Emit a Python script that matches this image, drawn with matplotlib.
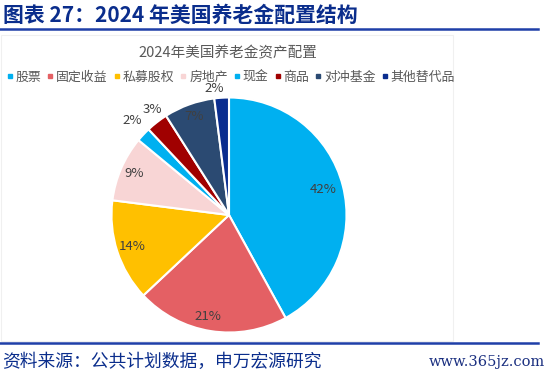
import matplotlib
matplotlib.use("Agg")
import matplotlib.pyplot as plt
from matplotlib.lines import Line2D
from matplotlib.patches import Rectangle
import numpy as np

plt.rcParams['font.family'] = ['Noto Sans CJK SC', 'DejaVu Sans']

categories = ['股票', '固定收益', '私募股权', '房地产', '现金', '商品', '对冲基金', '其他替代品']
values = [42, 21, 14, 9, 2, 3, 7, 2]
labels = ['42%', '21%', '14%', '9%', '2%', '3%', '7%', '2%']
colors = ['#00B0F0', '#E46064', '#FFC000', '#F8D5D5', '#00B0F0', '#A00000', '#2B4A72', '#0A2D8F']
label_radius = [0.83, 0.88, 0.87, 0.88, 1.15, 1.11, 0.89, 1.08]
label_angle_shift = [1, -3, 0, 0, -1, -2, 0, 3]

W, H = 550, 377
fig = plt.figure(figsize=(W / 100, H / 100), dpi=100)
fig.patch.set_facecolor('white')

def fx(x):
    return x / W

def fy(y):
    return 1 - y / H

blue = '#0A2D8C'
line_blue = '#1F3FA8'

# Header title
fig.text(fx(3), fy(15), '图表 27：2024 年美国养老金配置结构', fontsize=15, fontweight='bold',
         color=blue, ha='left', va='center')
fig.add_artist(Line2D([fx(0), fx(538)], [fy(29), fy(29)], color=line_blue, lw=1.8))
fig.add_artist(Line2D([fx(0), fx(538)], [fy(342.5), fy(342.5)], color=line_blue, lw=1.8))

# faint chart area border
fig.add_artist(Rectangle((fx(1), fy(341)), fx(453) - fx(1), fy(35) - fy(341),
                         fill=False, edgecolor='#F0F0F0', lw=0.8))

# chart title
fig.text(fx(228), fy(53), '2024年美国养老金资产配置', fontsize=10.5, color='#595959',
         ha='center', va='center')

# pie
cx, cy, R = 229, 215, 117.5
ax = fig.add_axes([fx(cx - R), fy(cy + R), 2 * R / W, 2 * R / H])
wedges, _ = ax.pie(values, colors=colors, startangle=90, counterclock=False,
                   wedgeprops=dict(edgecolor='white', linewidth=1.5))
ax.set_xlim(-1, 1)
ax.set_ylim(-1, 1)
ax.set_aspect('equal')
ax.axis('off')
for w, lab, r, sh in zip(wedges, labels, label_radius, label_angle_shift):
    ang = np.deg2rad((w.theta1 + w.theta2) / 2 + sh)
    ax.text(r * np.cos(ang), r * np.sin(ang), lab, ha='center', va='center',
            fontsize=9.5, color='#404040')

# legend
handles = [Line2D([], [], marker='s', linestyle='none', markersize=3,
                  markerfacecolor=c, markeredgecolor=c) for c in colors]
leg = fig.legend(handles, categories, loc='center', bbox_to_anchor=(fx(231), fy(77)),
                 ncol=8, frameon=False, fontsize=9.3, handlelength=0.4, handletextpad=0.26,
                 columnspacing=0.5, borderpad=0, borderaxespad=0)
for t in leg.get_texts():
    t.set_color('#595959')

# source
fig.text(fx(2), fy(362), '资料来源：公共计划数据，申万宏源研究', fontsize=12.8, color=blue,
         ha='left', va='center')
fig.text(fx(545), fy(362), 'www.365jz.com', fontsize=10.5, color='#1A2F80',
         ha='right', va='center', family=['DejaVu Serif'])

fig.savefig('out.png', dpi=100)
